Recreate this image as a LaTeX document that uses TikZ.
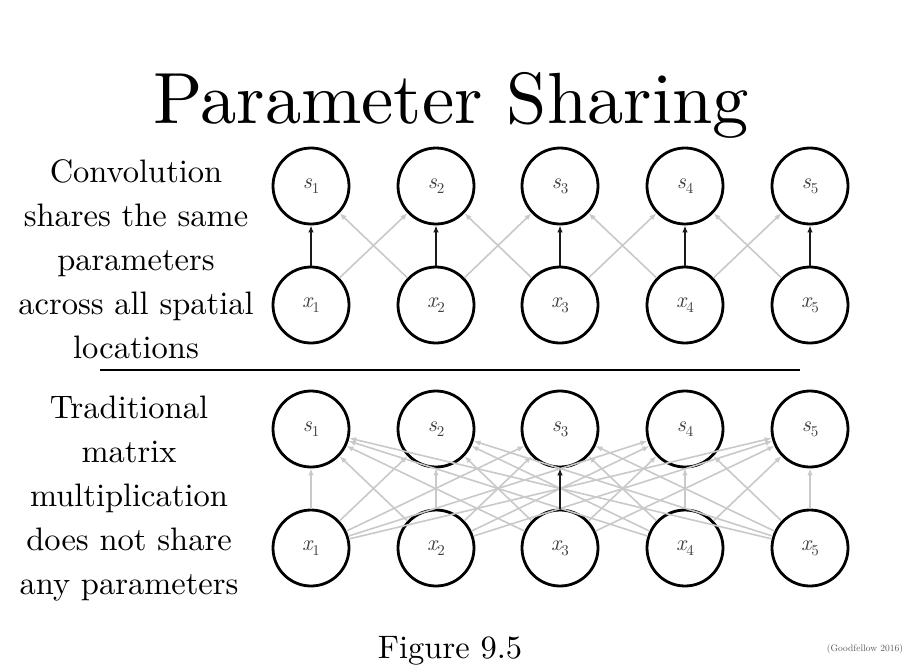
\documentclass[tikz,border=0pt]{standalone}
\usepackage{fontspec}
\setmainfont{lmroman10-regular}[Extension=.otf,ItalicFont=lmroman10-italic]
\usetikzlibrary{arrows.meta}
\newcommand{\unitlabel}[2]{{\itshape #1}\raisebox{-0.22em}{\fontsize{15}{15}\selectfont\upshape #2}}
\tikzset{
  unit/.style={circle,draw,line width=2.8pt,minimum size=76pt,inner sep=0pt,
    text=black!75,font=\fontsize{22}{24}\selectfont},
  shared/.style={-{Latex[length=7pt,width=5.5pt]},line width=2.5pt,black!90},
  unshared/.style={-{Latex[length=7pt,width=5.5pt]},line width=1.6pt,black!21},
  sidetext/.style={align=center,font=\fontsize{32.5}{44}\selectfont},
}
\begin{document}
\begin{tikzpicture}[x=1pt,y=-1pt]
\useasboundingbox (0,0) rectangle (913,665);
\node[font=\fontsize{72.5}{80}\selectfont,anchor=base] (title) at (451,123) {Parameter Sharing};
% convolution
\node[sidetext] (convtext) at (136,259) {Convolution\\shares the same\\parameters\\across all spatial\\locations};
\node[unit] (cs1) at (311,186) {\unitlabel{s}{1}};
\node[unit] (cs2) at (436,186) {\unitlabel{s}{2}};
\node[unit] (cs3) at (560,186) {\unitlabel{s}{3}};
\node[unit] (cs4) at (685,186) {\unitlabel{s}{4}};
\node[unit] (cs5) at (810,186) {\unitlabel{s}{5}};
\node[unit] (cx1) at (311,305) {\unitlabel{x}{1}};
\node[unit] (cx2) at (436,305) {\unitlabel{x}{2}};
\node[unit] (cx3) at (560,305) {\unitlabel{x}{3}};
\node[unit] (cx4) at (685,305) {\unitlabel{x}{4}};
\node[unit] (cx5) at (810,305) {\unitlabel{x}{5}};
\draw[unshared] (cx1) -- (cs2);
\draw[unshared] (cx2) -- (cs1);
\draw[unshared] (cx2) -- (cs3);
\draw[unshared] (cx3) -- (cs2);
\draw[unshared] (cx3) -- (cs4);
\draw[unshared] (cx4) -- (cs3);
\draw[unshared] (cx4) -- (cs5);
\draw[unshared] (cx5) -- (cs4);
\draw[shared] (cx1) -- (cs1);
\draw[shared] (cx2) -- (cs2);
\draw[shared] (cx3) -- (cs3);
\draw[shared] (cx4) -- (cs4);
\draw[shared] (cx5) -- (cs5);
\draw[line width=1.4pt] (100,370) -- (800,370);
% fully connected
\node[sidetext] (matrixtext) at (129,499) {Traditional\\matrix\\multiplication\\does not share\\any parameters};
\node[unit] (ms1) at (311,429) {\unitlabel{s}{1}};
\node[unit] (ms2) at (436,429) {\unitlabel{s}{2}};
\node[unit] (ms3) at (560,429) {\unitlabel{s}{3}};
\node[unit] (ms4) at (685,429) {\unitlabel{s}{4}};
\node[unit] (ms5) at (810,429) {\unitlabel{s}{5}};
\node[unit] (mx1) at (311,548) {\unitlabel{x}{1}};
\node[unit] (mx2) at (436,548) {\unitlabel{x}{2}};
\node[unit] (mx3) at (560,548) {\unitlabel{x}{3}};
\node[unit] (mx4) at (685,548) {\unitlabel{x}{4}};
\node[unit] (mx5) at (810,548) {\unitlabel{x}{5}};
\foreach \i in {1,...,5}
  \foreach \j in {1,...,5}
    \draw[unshared] (mx\i) -- (ms\j);
\draw[shared] (mx3) -- (ms3);
\node[font=\fontsize{32.5}{40}\selectfont,anchor=base] (caption) at (450,658) {Figure 9.5};
\node[font=\fontsize{9.5}{10}\selectfont,text=black!65,anchor=base] (credit) at (865,651) {(Goodfellow 2016)};
\end{tikzpicture}
\end{document}
